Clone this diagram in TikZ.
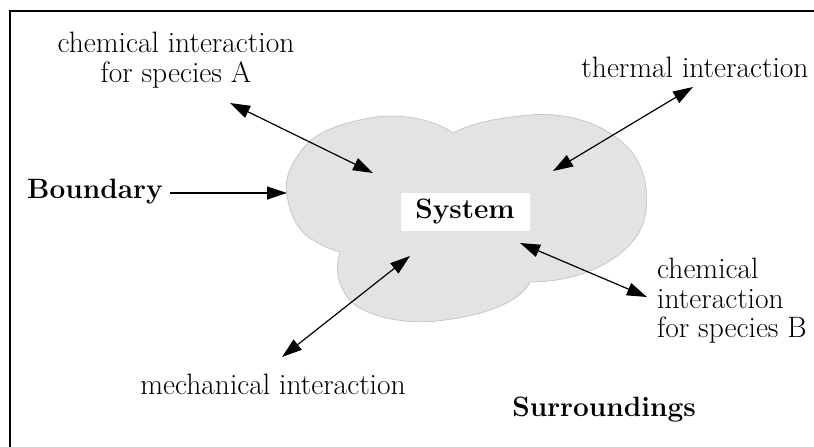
\documentclass[tikz,border=0pt]{standalone}
\usetikzlibrary{arrows.meta}
\begin{document}
\begin{tikzpicture}[x=1pt,y=-1pt,
  lbl/.style={font=\fontsize{29.5}{29.5}\selectfont, inner sep=0pt},
  blbl/.style={font=\fontsize{28}{30}\selectfont\bfseries, inner sep=0pt},
  dbl/.style={line width=1.2pt, {Triangle[length=20pt,width=13pt]}-{Triangle[length=20pt,width=13pt]}},
  sgl/.style={line width=1.2pt, -{Triangle[length=20pt,width=13pt]}}]
\useasboundingbox (0,0) rectangle (814,447);
\draw[line width=2pt] (10,447) -- (10,11) -- (814,11);
% cloud
\path[fill=black!11, draw=black!22, line width=0.8pt]
 (453,133) .. controls (435,120) and (400,112) .. (370,118)
 .. controls (335,124) and (312,135) .. (302,150)
 .. controls (290,165) and (284,180) .. (287,195)
 .. controls (290,215) and (298,232) .. (313,240)
 .. controls (322,246) and (333,250) .. (340,252)
 .. controls (334,270) and (338,290) .. (355,305)
 .. controls (380,322) and (420,324) .. (445,320)
 .. controls (490,314) and (522,300) .. (530,282)
 .. controls (570,282) and (610,268) .. (632,242)
 .. controls (652,222) and (652,175) .. (630,150)
 .. controls (605,122) and (565,112) .. (530,115)
 .. controls (495,118) and (470,124) .. (453,133) -- cycle;
\node[blbl, fill=white, minimum width=129pt, minimum height=38pt] (sys) at (465,212) {System};
\node[lbl, align=center] (chemA) at (176,60) {chemical interaction\\for species A};
\node[lbl] (thermal) at (695,67) {thermal interaction};
\node[blbl, anchor=west] (bnd) at (27,192) {Boundary};
\node[lbl, align=left, anchor=west] (chemB) at (657,301) {chemical\\interaction\\for species B};
\node[lbl] (mech) at (273,384) {mechanical interaction};
\node[blbl] (surr) at (604,410) {Surroundings};
% arrow ends
\coordinate (a1) at (230,103);
\coordinate (a2) at (373,173);
\coordinate (t1) at (693,87);
\coordinate (t2) at (553,171);
\coordinate (b1) at (170,193);
\coordinate (b2) at (287,193);
\coordinate (c1) at (520,243);
\coordinate (c2) at (647,297);
\coordinate (m1) at (410,256);
\coordinate (m2) at (282,357);
\draw[dbl] (a1) -- (a2);
\draw[dbl] (t1) -- (t2);
\draw[sgl] (b1) -- (b2);
\draw[dbl] (c1) -- (c2);
\draw[dbl] (m1) -- (m2);
\end{tikzpicture}
\end{document}
